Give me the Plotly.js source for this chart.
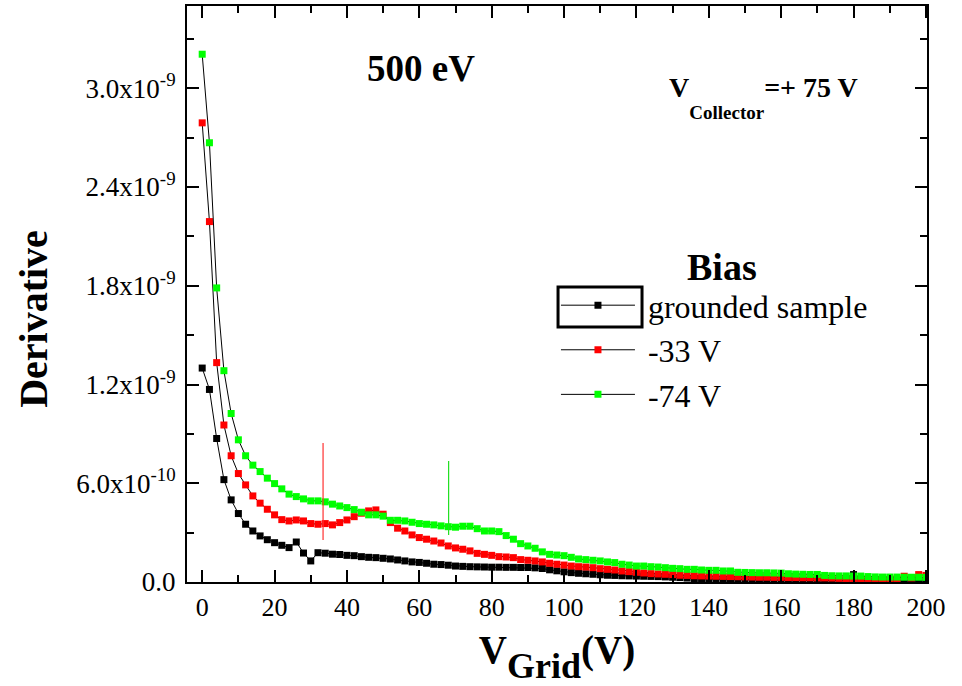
<!DOCTYPE html>
<html>
<head>
<meta charset="utf-8">
<script src="https://cdn.plot.ly/plotly-3.0.1.min.js"></script>
<style>html,body{margin:0;padding:0;background:#fff;}#chart{width:962px;height:686px;}</style>
</head>
<body>
<div id="chart"></div>
<script>
// Grid voltage (V)
const vGrid = [0,2,4,6,8,10,12,14,16,18,20,22,24,26,28,30,32,34,36,38,40,42,44,46,48,50,52,54,56,58,60,62,64,66,68,70,72,74,76,78,80,82,84,86,88,90,92,94,96,98,100,102,104,106,108,110,112,114,116,118,120,122,124,126,128,130,132,134,136,138,140,142,144,146,148,150,152,154,156,158,160,162,164,166,168,170,172,174,176,178,180,182,184,186,188,190,192,194,196,198,200];
// Derivative values in units of 1e-9
const grounded = [1.30,1.17,0.872,0.622,0.499,0.416,0.351,0.310,0.280,0.257,0.239,0.223,0.209,0.243,0.176,0.128,0.178,0.175,0.169,0.167,0.162,0.160,0.154,0.150,0.148,0.144,0.140,0.134,0.128,0.122,0.119,0.114,0.108,0.106,0.102,0.097,0.095,0.093,0.092,0.091,0.090,0.090,0.089,0.089,0.088,0.088,0.086,0.082,0.074,0.068,0.062,0.057,0.053,0.050,0.047,0.044,0.041,0.040,0.038,0.037,0.036,0.035,0.034,0.033,0.031,0.029,0.027,0.024,0.021,0.020,0.018,0.017,0.016,0.016,0.015,0.014,0.014,0.013,0.013,0.012,0.012,0.011,0.011,0.010,0.010,0.010,0.009,0.009,0.009,0.008,0.045,0.008,0.007,0.007,0.007,0.006,0.006,0.006,0.005,0.005,0.005];
const bias33 = [2.79,2.19,1.333,0.954,0.767,0.659,0.590,0.523,0.479,0.442,0.408,0.379,0.371,0.377,0.371,0.355,0.351,0.355,0.347,0.361,0.377,0.397,0.418,0.432,0.438,0.412,0.361,0.327,0.310,0.286,0.270,0.260,0.249,0.237,0.219,0.207,0.199,0.189,0.174,0.168,0.162,0.154,0.152,0.148,0.136,0.132,0.128,0.122,0.114,0.108,0.103,0.097,0.093,0.091,0.087,0.081,0.077,0.073,0.067,0.063,0.059,0.055,0.051,0.049,0.047,0.045,0.041,0.040,0.038,0.037,0.036,0.035,0.034,0.033,0.032,0.031,0.030,0.029,0.029,0.028,0.028,0.027,0.027,0.026,0.026,0.025,0.025,0.024,0.022,0.020,0.018,0.017,0.016,0.016,0.015,0.015,0.020,0.035,0.025,0.045,0.040];
const bias74 = [3.207,2.669,1.787,1.284,1.024,0.864,0.767,0.710,0.671,0.631,0.598,0.566,0.534,0.519,0.505,0.493,0.493,0.487,0.473,0.462,0.452,0.440,0.424,0.408,0.408,0.400,0.375,0.375,0.371,0.363,0.355,0.351,0.347,0.341,0.336,0.333,0.339,0.339,0.324,0.310,0.310,0.306,0.282,0.260,0.233,0.219,0.205,0.183,0.168,0.164,0.160,0.150,0.140,0.136,0.132,0.128,0.122,0.118,0.108,0.103,0.097,0.097,0.093,0.091,0.087,0.083,0.081,0.077,0.077,0.073,0.071,0.071,0.067,0.067,0.059,0.058,0.057,0.056,0.056,0.055,0.054,0.050,0.048,0.047,0.046,0.046,0.040,0.038,0.037,0.037,0.036,0.036,0.033,0.031,0.030,0.030,0.030,0.029,0.029,0.029,0.028];
// Vertical marker lines
const markRedX = [33.4,33.4];
const markRedY = [0.255,0.844];
const markGreenX = [68.1,68.1];
const markGreenY = [0.286,0.736];
// Series names and colours
const seriesNames = ['grounded sample','-33 V','-74 V'];
const seriesColors = ['#000000','#ff0000','#00ff00'];
// Axis ticks
const yTickVals = [0,0.6,1.2,1.8,2.4,3.0];
const yTickText = ['0.0','6.0x10<sup>-10</sup>','1.2x10<sup>-9</sup>','1.8x10<sup>-9</sup>','2.4x10<sup>-9</sup>','3.0x10<sup>-9</sup>'];

const serif = 'Liberation Serif, Times New Roman, serif';
const seriesY = [grounded, bias33, bias74];
const traces = seriesY.map((ys,i)=>({
  x: vGrid, y: ys, type:'scatter', mode:'lines+markers', name: '&nbsp;' + seriesNames[i],
  line:{color:'#000', width:1},
  marker:{symbol:'square', size:7, color:seriesColors[i], line:{width:0}}
}));
traces.push({x:markRedX, y:markRedY, type:'scatter', mode:'lines', line:{color:'#ff3030', width:1.2}, showlegend:false, hoverinfo:'skip'});
traces.push({x:markGreenX, y:markGreenY, type:'scatter', mode:'lines', line:{color:'#20e020', width:1.2}, showlegend:false, hoverinfo:'skip'});

const axisCommon = {
  showgrid:false, zeroline:false, showline:true, linecolor:'#000', linewidth:2,
  mirror:'ticks', ticks:'inside', ticklen:12, tickwidth:2, tickcolor:'#000'
};

const layout = {
  width:962, height:686,
  margin:{l:187, r:35, t:6, b:104},
  paper_bgcolor:'#fff', plot_bgcolor:'#fff',
  font:{family:serif, color:'#000'},
  showlegend:true,
  legend:{x:0.4986, y:0.528, xanchor:'left', yanchor:'top', bgcolor:'rgba(0,0,0,0)',
    font:{family:serif, size:32, color:'#000'}, itemwidth:74, tracegroupgap:0},
  xaxis: Object.assign({}, axisCommon, {
    range:[-4.2,200.3], tickmode:'linear', tick0:0, dtick:20,
    minor:{tickmode:'linear', tick0:0, dtick:10, ticks:'inside', ticklen:7, tickwidth:2, tickcolor:'#000'},
    tickfont:{family:serif, size:26, color:'#000'}, ticklabelstandoff:1,
    title:{text:"V<span style='font-size:36px;baseline-shift:-15px'>Grid</span>(V)", font:{family:serif, size:39, color:'#000', weight:'bold'}, standoff:16}
  }),
  yaxis: Object.assign({}, axisCommon, {
    range:[0,3.5], tickmode:'array', tickvals:yTickVals, ticktext:yTickText,
    minor:{tickmode:'linear', tick0:0, dtick:0.3, ticks:'inside', ticklen:7, tickwidth:2, tickcolor:'#000'},
    tickfont:{family:serif, size:27, color:'#000'}, ticklabelstandoff:4,
    title:{text:'Derivative&nbsp;&nbsp;&nbsp;&nbsp;&nbsp;', font:{family:serif, size:40, color:'#000', weight:'bold'}, standoff:16}
  }),
  shapes:[
    {type:'rect', xref:'paper', yref:'paper', x0:0.5014, x1:0.6149, y0:0.4427, y1:0.5122, line:{color:'#000', width:3}}
  ],
  annotations:[
    {text:'500 eV', xref:'paper', yref:'paper', x:0.316, y:0.891, xanchor:'center', yanchor:'middle', showarrow:false,
     font:{family:serif, size:37, color:'#000', weight:'bold'}},
    {text:"V<span style='font-size:19px;baseline-shift:-22px'>Collector</span>=+ 75 V", xref:'paper', yref:'paper', x:0.649, y:0.842, xanchor:'left', yanchor:'middle', showarrow:false,
     font:{family:serif, size:28, color:'#000', weight:'bold'}},
    {text:'Bias', xref:'paper', yref:'paper', x:0.723, y:0.547, xanchor:'center', yanchor:'middle', showarrow:false,
     font:{family:serif, size:38, color:'#000', weight:'bold'}}
  ]
};

Plotly.newPlot('chart', traces, layout, {staticPlot:true, displayModeBar:false});
</script>
</body>
</html>
